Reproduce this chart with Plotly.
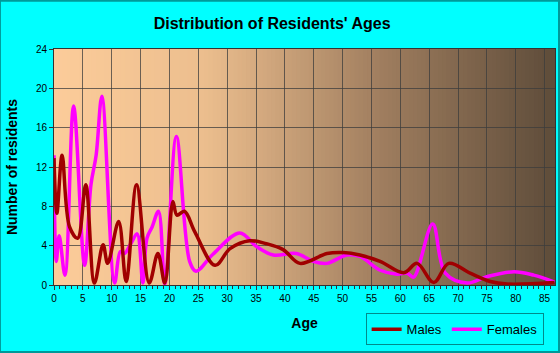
import plotly.graph_objects as go

# ---- data ----
male_age = [0, 0.5, 1.4, 2.7, 4.1, 5.5, 7.0, 8.5, 9.3, 11.2, 12.5, 14.3, 16.5, 18.0, 19.2,
            20.6, 21.3, 22.6, 24.4, 27.9, 30.5, 33.9, 36.8, 39.7, 42.6, 47.3, 50.1, 53.0,
            56.5, 60.6, 62.9, 65.8, 68.4, 72.1, 75.6, 78.5, 86.7]
male_val = [12.9, 7.3, 13.2, 5.9, 4.75, 10.2, 0.2, 4.1, 2.2, 6.45, 0.35, 10.2, 0.2, 3.2, 0.2,
            8.5, 7.1, 7.5, 5.4, 2.0, 3.7, 4.5, 4.2, 3.6, 2.2, 3.2, 3.3, 3.05,
            2.4, 1.25, 2.2, 0.25, 2.2, 1.2, 0.35, 0.1, 0.25]

female_age = [0, 0.4, 0.9, 1.9, 3.4, 5.3, 6.4, 7.3, 8.3, 10.5, 11.5, 12.2, 13.4, 14.4, 15.4,
              16.1, 17.0, 18.1, 19.2, 21.2, 23.5, 24.6, 27.5, 32.2, 35.1, 38.0, 42.0, 44.9,
              47.3, 50.7, 53.0, 56.5, 59.4, 61.2, 62.3, 65.6, 67.8, 71.6, 75.0, 79.7, 83.1, 86.7]
female_val = [13.2, 2.4, 5.0, 1.0, 18.2, 2.0, 10.2, 13.2, 19.2, 0.2, 3.4, 3.2, 4.3, 5.2, 0.2,
              4.75, 5.9, 7.5, 0.1, 15.1, 2.4, 1.4, 3.1, 5.3, 3.9, 3.05, 3.2, 2.4,
              2.2, 3.05, 2.9, 1.5, 1.1, 1.2, 0.8, 6.2, 1.2, 0.2, 0.85, 1.35, 1.0, 0.3]

x_ticks = list(range(0, 90, 5))
y_ticks = list(range(0, 28, 4))

fig = go.Figure()
fig.add_trace(go.Scatter(x=female_age, y=female_val, name="Females", mode="lines",
                         line=dict(color="#FF00FF", width=3.5, shape="spline", smoothing=1.0)))
fig.add_trace(go.Scatter(x=male_age, y=male_val, name="Males", mode="lines",
                         line=dict(color="#A00000", width=3.5, shape="spline", smoothing=1.0)))

# background gradient (peach -> dark brown)
stops = [(0.0, (252, 204, 154)), (0.3, (236, 190, 142)), (0.65, (160, 126, 95)), (1.0, (94, 76, 58))]
def col(t):
    for (t0, c0), (t1, c1) in zip(stops[:-1], stops[1:]):
        if t <= t1:
            f = (t - t0) / (t1 - t0)
            return "rgb(%d,%d,%d)" % tuple(round(a + (b - a) * f) for a, b in zip(c0, c1))
    return "rgb(%d,%d,%d)" % stops[-1][1]

n = 120
shapes = []
for i in range(n):
    shapes.append(dict(type="rect", xref="x domain", yref="y domain",
                       x0=i / n, x1=(i + 1) / n + 0.002, y0=0, y1=1,
                       fillcolor=col((i + 0.5) / n), line=dict(width=0), layer="below"))
# outer teal border
shapes.append(dict(type="rect", xref="paper", yref="paper",
                   x0=-54 / 500.5, x1=(559 - 54.5) / 500.5, y0=(285 - 352) / 235.7, y1=(285 - 1) / 235.7,
                   line=dict(color="#009999", width=2), fillcolor="rgba(0,0,0,0)", layer="above"))

font = "Liberation Sans, Arial, sans-serif"
fig.update_layout(
    width=560, height=353,
    margin=dict(l=54, r=5, t=49, b=68),
    paper_bgcolor="#00FFFF",
    plot_bgcolor="rgba(0,0,0,0)",
    shapes=shapes,
    showlegend=True,
    title=dict(text="<b>Distribution of Residents' Ages</b>", x=0.486, xanchor="center",
               y=0.935, yanchor="middle", font=dict(family=font, size=16, color="#000")),
    legend=dict(orientation="h", x=0.622, xanchor="left", y=-0.12, yanchor="top",
                bgcolor="#00FFFF", bordercolor="#008B8B", borderwidth=1,
                traceorder="reversed", font=dict(family=font, size=13, color="#000"),
                itemwidth=30, tracegroupgap=0),
    xaxis=dict(range=[0, 86.8], tickvals=x_ticks, showgrid=True, gridcolor="rgba(60,60,60,0.75)",
               gridwidth=1, zeroline=False, showline=True, linecolor="#333", mirror=True,
               ticks="outside", ticklen=4, tickcolor="#333",
               minor=dict(dtick=1, ticks="outside", ticklen=3, tickcolor="#333", showgrid=False),
               tickfont=dict(family=font, size=10, color="#000"),
               title=dict(text="<b>Age</b>", font=dict(family=font, size=14, color="#000"), standoff=15)),
    yaxis=dict(range=[0, 24], tickvals=y_ticks, showgrid=True, gridcolor="rgba(60,60,60,0.75)",
               gridwidth=1, zeroline=False, showline=True, linecolor="#333", mirror=True,
               ticks="outside", ticklen=4, tickcolor="#333",
               tickfont=dict(family=font, size=10, color="#000"),
               title=dict(text="<b>Number of residents</b>", font=dict(family=font, size=14, color="#000"), standoff=14)),
)
fig.write_html("out.html")
